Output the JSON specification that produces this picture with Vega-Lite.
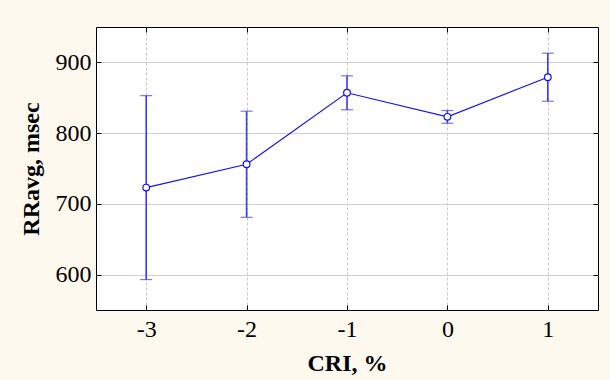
{
  "$schema": "https://vega.github.io/schema/vega-lite/v6.json",
  "width": 502,
  "height": 283,
  "autosize": {"type": "none"},
  "padding": {"left": 96, "top": 27, "right": 12, "bottom": 70},
  "background": "#FDF9EE",
  "config": {
    "font": "Liberation Serif",
    "view": {"stroke": "#000000", "strokeWidth": 1, "fill": "#FFFFFF"},
    "axis": {
      "labelFont": "Liberation Serif",
      "titleFont": "Liberation Serif",
      "labelFontSize": 24,
      "titleFontSize": 24,
      "labelColor": "#000000",
      "titleColor": "#000000",
      "titleFontWeight": "bold",
      "domain": false,
      "tickColor": "#000000",
      "tickSize": -5,
      "labelExpr": "'' + datum.value"
    }
  },
  "data": {
    "values": [
      {"cri": -3, "mean": 723, "lo": 593, "hi": 853},
      {"cri": -2, "mean": 756, "lo": 681, "hi": 831},
      {"cri": -1, "mean": 857, "lo": 833, "hi": 881},
      {"cri": 0, "mean": 823, "lo": 814, "hi": 832},
      {"cri": 1, "mean": 879, "lo": 845, "hi": 913}
    ]
  },
  "layer": [
    {
      "layer": [
        {
          "mark": {"type": "rule", "color": "#3A3AFF", "strokeWidth": 1.6},
          "encoding": {
            "x": {
              "field": "cri", "type": "quantitative",
              "scale": {"domain": [-3.5, 1.5], "nice": false, "zero": false},
              "axis": {"values": [-3, -2, -1, 0, 1], "title": "CRI, %", "grid": true, "gridColor": "#C8C8C8", "gridDash": [3, 2], "labelPadding": 12, "titlePadding": 10}
            },
            "y": {
              "field": "lo", "type": "quantitative",
              "scale": {"domain": [550, 950], "nice": false, "zero": false},
              "axis": {"values": [600, 700, 800, 900], "title": "RRavg, msec", "grid": true, "gridColor": "#D0D0D0", "labelPadding": 10, "titlePadding": 12}
            },
            "y2": {"field": "hi"}
          }
        },
        {
          "mark": {"type": "tick", "orient": "horizontal", "color": "#3A3AFF", "size": 12, "thickness": 1.2},
          "encoding": {
            "x": {"field": "cri", "type": "quantitative"},
            "y": {"field": "lo", "type": "quantitative"}
          }
        },
        {
          "mark": {"type": "tick", "orient": "horizontal", "color": "#3A3AFF", "size": 12, "thickness": 1.2},
          "encoding": {
            "x": {"field": "cri", "type": "quantitative"},
            "y": {"field": "hi", "type": "quantitative"}
          }
        },
        {
          "mark": {"type": "line", "color": "#1010FF", "strokeWidth": 1.1},
          "encoding": {
            "x": {"field": "cri", "type": "quantitative"},
            "y": {"field": "mean", "type": "quantitative"}
          }
        },
        {
          "mark": {"type": "point", "filled": true, "fill": "#FFFFFF", "stroke": "#1010FF", "strokeWidth": 1.2, "size": 45, "opacity": 1},
          "encoding": {
            "x": {"field": "cri", "type": "quantitative"},
            "y": {"field": "mean", "type": "quantitative"}
          }
        }
      ]
    },
    {
      "mark": {"type": "point", "opacity": 0},
      "encoding": {
        "x": {
          "field": "cri", "type": "quantitative",
          "scale": {"domain": [-3.5, 1.5], "nice": false, "zero": false},
          "axis": {"orient": "top", "values": [-3, -2, -1, 0, 1], "labels": false, "title": null, "grid": false}
        },
        "y": {
          "field": "mean", "type": "quantitative",
          "scale": {"domain": [550, 950], "nice": false, "zero": false},
          "axis": {"orient": "right", "values": [600, 700, 800, 900], "labels": false, "title": null, "grid": false}
        }
      }
    }
  ],
  "resolve": {"axis": {"x": "independent", "y": "independent"}}
}
